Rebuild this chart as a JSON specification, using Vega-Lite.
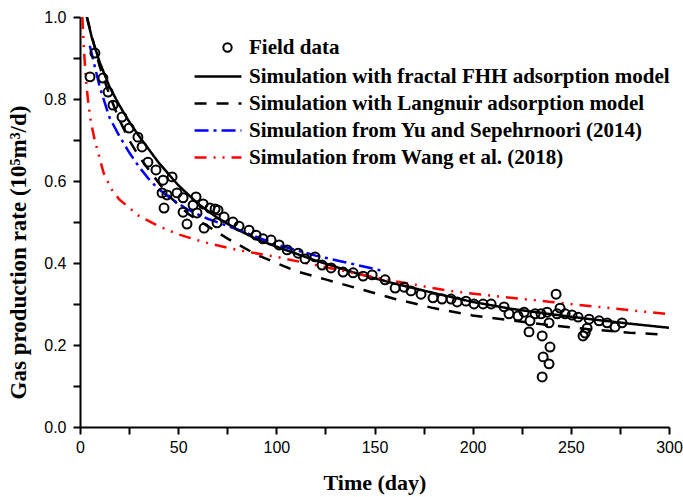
{
  "$schema": "https://vega.github.io/schema/vega-lite/v6.json",
  "width": 589,
  "height": 410,
  "autosize": {"type": "none"},
  "padding": {"left": 80, "top": 17, "right": 14, "bottom": 70},
  "background": "white",
  "config": {
    "view": {"stroke": null},
    "axis": {
      "grid": false,
      "domainColor": "black",
      "domainWidth": 2,
      "tickColor": "black",
      "tickWidth": 2,
      "tickSize": 7,
      "labelFont": "Liberation Sans",
      "labelFontSize": 16,
      "labelColor": "black",
      "labelFlush": false,
      "titleFont": "Liberation Serif",
      "titleFontWeight": "bold",
      "titleFontSize": 22,
      "titleColor": "black"
    },
    "legend": {
      "labelFont": "Liberation Serif",
      "labelFontWeight": "bold",
      "labelFontSize": 21,
      "labelColor": "black",
      "padding": 0,
      "labelLimit": 700
    }
  },
  "datasets": {
    "field": [
      {"day": 5.1, "rate": 0.854}, {"day": 7.6, "rate": 0.912}, {"day": 11.7, "rate": 0.851},
      {"day": 14.3, "rate": 0.817}, {"day": 16.8, "rate": 0.785}, {"day": 21.4, "rate": 0.756},
      {"day": 25.0, "rate": 0.729}, {"day": 29.5, "rate": 0.707}, {"day": 31.6, "rate": 0.683},
      {"day": 34.6, "rate": 0.646}, {"day": 38.7, "rate": 0.627}, {"day": 42.3, "rate": 0.602},
      {"day": 46.9, "rate": 0.610}, {"day": 41.8, "rate": 0.571}, {"day": 44.3, "rate": 0.566},
      {"day": 49.4, "rate": 0.571}, {"day": 42.8, "rate": 0.534}, {"day": 52.5, "rate": 0.559},
      {"day": 52.5, "rate": 0.524}, {"day": 54.5, "rate": 0.495}, {"day": 57.6, "rate": 0.541},
      {"day": 59.1, "rate": 0.561}, {"day": 59.6, "rate": 0.522}, {"day": 62.7, "rate": 0.544},
      {"day": 63.2, "rate": 0.485}, {"day": 66.2, "rate": 0.534}, {"day": 68.8, "rate": 0.532},
      {"day": 70.3, "rate": 0.529}, {"day": 69.8, "rate": 0.498}, {"day": 73.4, "rate": 0.512},
      {"day": 77.9, "rate": 0.500}, {"day": 81.0, "rate": 0.490}, {"day": 86.1, "rate": 0.480},
      {"day": 89.7, "rate": 0.468}, {"day": 93.2, "rate": 0.459}, {"day": 97.3, "rate": 0.456},
      {"day": 101.4, "rate": 0.444}, {"day": 105.5, "rate": 0.432}, {"day": 111.1, "rate": 0.424},
      {"day": 114.6, "rate": 0.410}, {"day": 119.7, "rate": 0.415}, {"day": 123.3, "rate": 0.395},
      {"day": 127.9, "rate": 0.388}, {"day": 134.0, "rate": 0.378}, {"day": 139.1, "rate": 0.376},
      {"day": 144.2, "rate": 0.368}, {"day": 148.8, "rate": 0.371}, {"day": 155.4, "rate": 0.359},
      {"day": 160.5, "rate": 0.339}, {"day": 165.1, "rate": 0.341}, {"day": 168.6, "rate": 0.332},
      {"day": 173.7, "rate": 0.324}, {"day": 179.8, "rate": 0.315}, {"day": 184.4, "rate": 0.312},
      {"day": 189.0, "rate": 0.312}, {"day": 192.1, "rate": 0.305}, {"day": 196.6, "rate": 0.307},
      {"day": 200.7, "rate": 0.300}, {"day": 205.3, "rate": 0.300}, {"day": 209.4, "rate": 0.300},
      {"day": 216.0, "rate": 0.293}, {"day": 218.5, "rate": 0.276}, {"day": 223.1, "rate": 0.271},
      {"day": 226.2, "rate": 0.280}, {"day": 229.2, "rate": 0.259}, {"day": 228.7, "rate": 0.232},
      {"day": 231.8, "rate": 0.276}, {"day": 234.8, "rate": 0.276}, {"day": 237.9, "rate": 0.280},
      {"day": 238.9, "rate": 0.254}, {"day": 235.4, "rate": 0.222}, {"day": 239.4, "rate": 0.195},
      {"day": 235.9, "rate": 0.171}, {"day": 238.9, "rate": 0.154}, {"day": 235.4, "rate": 0.122},
      {"day": 242.5, "rate": 0.324}, {"day": 244.5, "rate": 0.290}, {"day": 243.0, "rate": 0.276},
      {"day": 247.1, "rate": 0.276}, {"day": 250.6, "rate": 0.273}, {"day": 253.7, "rate": 0.268},
      {"day": 259.3, "rate": 0.263}, {"day": 258.3, "rate": 0.241}, {"day": 257.3, "rate": 0.229},
      {"day": 256.2, "rate": 0.222}, {"day": 264.4, "rate": 0.259}, {"day": 268.5, "rate": 0.254},
      {"day": 272.5, "rate": 0.244}, {"day": 276.1, "rate": 0.254}
    ],
    "sim": [
      {"s": "Simulation with fractal FHH adsorption model", "day": 3.5, "rate": 1.0},
      {"s": "Simulation with fractal FHH adsorption model", "day": 6, "rate": 0.95},
      {"s": "Simulation with fractal FHH adsorption model", "day": 10, "rate": 0.89},
      {"s": "Simulation with fractal FHH adsorption model", "day": 15, "rate": 0.83},
      {"s": "Simulation with fractal FHH adsorption model", "day": 20, "rate": 0.785},
      {"s": "Simulation with fractal FHH adsorption model", "day": 25, "rate": 0.745},
      {"s": "Simulation with fractal FHH adsorption model", "day": 30, "rate": 0.71},
      {"s": "Simulation with fractal FHH adsorption model", "day": 40, "rate": 0.645},
      {"s": "Simulation with fractal FHH adsorption model", "day": 50, "rate": 0.59},
      {"s": "Simulation with fractal FHH adsorption model", "day": 60, "rate": 0.545},
      {"s": "Simulation with fractal FHH adsorption model", "day": 70, "rate": 0.51},
      {"s": "Simulation with fractal FHH adsorption model", "day": 80, "rate": 0.482},
      {"s": "Simulation with fractal FHH adsorption model", "day": 90, "rate": 0.458},
      {"s": "Simulation with fractal FHH adsorption model", "day": 100, "rate": 0.44},
      {"s": "Simulation with fractal FHH adsorption model", "day": 120, "rate": 0.406},
      {"s": "Simulation with fractal FHH adsorption model", "day": 140, "rate": 0.376},
      {"s": "Simulation with fractal FHH adsorption model", "day": 160, "rate": 0.35},
      {"s": "Simulation with fractal FHH adsorption model", "day": 180, "rate": 0.327},
      {"s": "Simulation with fractal FHH adsorption model", "day": 200, "rate": 0.305},
      {"s": "Simulation with fractal FHH adsorption model", "day": 220, "rate": 0.288},
      {"s": "Simulation with fractal FHH adsorption model", "day": 240, "rate": 0.275},
      {"s": "Simulation with fractal FHH adsorption model", "day": 260, "rate": 0.263},
      {"s": "Simulation with fractal FHH adsorption model", "day": 280, "rate": 0.252},
      {"s": "Simulation with fractal FHH adsorption model", "day": 300, "rate": 0.242},

      {"s": "Simulation with Langnuir adsorption model", "day": 3.5, "rate": 1.0},
      {"s": "Simulation with Langnuir adsorption model", "day": 10, "rate": 0.88},
      {"s": "Simulation with Langnuir adsorption model", "day": 15, "rate": 0.81},
      {"s": "Simulation with Langnuir adsorption model", "day": 20, "rate": 0.75},
      {"s": "Simulation with Langnuir adsorption model", "day": 25, "rate": 0.70},
      {"s": "Simulation with Langnuir adsorption model", "day": 30, "rate": 0.66},
      {"s": "Simulation with Langnuir adsorption model", "day": 37, "rate": 0.615},
      {"s": "Simulation with Langnuir adsorption model", "day": 45, "rate": 0.565},
      {"s": "Simulation with Langnuir adsorption model", "day": 55, "rate": 0.52},
      {"s": "Simulation with Langnuir adsorption model", "day": 65, "rate": 0.49},
      {"s": "Simulation with Langnuir adsorption model", "day": 75, "rate": 0.46},
      {"s": "Simulation with Langnuir adsorption model", "day": 90, "rate": 0.42},
      {"s": "Simulation with Langnuir adsorption model", "day": 100, "rate": 0.40},
      {"s": "Simulation with Langnuir adsorption model", "day": 110, "rate": 0.38},
      {"s": "Simulation with Langnuir adsorption model", "day": 125, "rate": 0.36},
      {"s": "Simulation with Langnuir adsorption model", "day": 140, "rate": 0.34},
      {"s": "Simulation with Langnuir adsorption model", "day": 160, "rate": 0.313},
      {"s": "Simulation with Langnuir adsorption model", "day": 180, "rate": 0.29},
      {"s": "Simulation with Langnuir adsorption model", "day": 200, "rate": 0.272},
      {"s": "Simulation with Langnuir adsorption model", "day": 220, "rate": 0.26},
      {"s": "Simulation with Langnuir adsorption model", "day": 240, "rate": 0.248},
      {"s": "Simulation with Langnuir adsorption model", "day": 260, "rate": 0.238},
      {"s": "Simulation with Langnuir adsorption model", "day": 280, "rate": 0.23},
      {"s": "Simulation with Langnuir adsorption model", "day": 295, "rate": 0.226},

      {"s": "Simulation from Yu and Sepehrnoori (2014)", "day": 5, "rate": 0.93},
      {"s": "Simulation from Yu and Sepehrnoori (2014)", "day": 10, "rate": 0.83},
      {"s": "Simulation from Yu and Sepehrnoori (2014)", "day": 15, "rate": 0.755},
      {"s": "Simulation from Yu and Sepehrnoori (2014)", "day": 20, "rate": 0.71},
      {"s": "Simulation from Yu and Sepehrnoori (2014)", "day": 25, "rate": 0.67},
      {"s": "Simulation from Yu and Sepehrnoori (2014)", "day": 30, "rate": 0.635},
      {"s": "Simulation from Yu and Sepehrnoori (2014)", "day": 35, "rate": 0.605},
      {"s": "Simulation from Yu and Sepehrnoori (2014)", "day": 40, "rate": 0.58},
      {"s": "Simulation from Yu and Sepehrnoori (2014)", "day": 47, "rate": 0.555},
      {"s": "Simulation from Yu and Sepehrnoori (2014)", "day": 55, "rate": 0.53},
      {"s": "Simulation from Yu and Sepehrnoori (2014)", "day": 65, "rate": 0.508},
      {"s": "Simulation from Yu and Sepehrnoori (2014)", "day": 80, "rate": 0.482},
      {"s": "Simulation from Yu and Sepehrnoori (2014)", "day": 100, "rate": 0.445},
      {"s": "Simulation from Yu and Sepehrnoori (2014)", "day": 120, "rate": 0.418},
      {"s": "Simulation from Yu and Sepehrnoori (2014)", "day": 135, "rate": 0.402},
      {"s": "Simulation from Yu and Sepehrnoori (2014)", "day": 153, "rate": 0.382},

      {"s": "Simulation from Wang et al. (2018)", "day": 1.2, "rate": 1.0},
      {"s": "Simulation from Wang et al. (2018)", "day": 2, "rate": 0.92},
      {"s": "Simulation from Wang et al. (2018)", "day": 3, "rate": 0.85},
      {"s": "Simulation from Wang et al. (2018)", "day": 4, "rate": 0.80},
      {"s": "Simulation from Wang et al. (2018)", "day": 5.5, "rate": 0.745},
      {"s": "Simulation from Wang et al. (2018)", "day": 7.5, "rate": 0.70},
      {"s": "Simulation from Wang et al. (2018)", "day": 12, "rate": 0.62},
      {"s": "Simulation from Wang et al. (2018)", "day": 16, "rate": 0.58},
      {"s": "Simulation from Wang et al. (2018)", "day": 20, "rate": 0.555},
      {"s": "Simulation from Wang et al. (2018)", "day": 25, "rate": 0.535},
      {"s": "Simulation from Wang et al. (2018)", "day": 30, "rate": 0.515},
      {"s": "Simulation from Wang et al. (2018)", "day": 40, "rate": 0.49},
      {"s": "Simulation from Wang et al. (2018)", "day": 50, "rate": 0.47},
      {"s": "Simulation from Wang et al. (2018)", "day": 63, "rate": 0.451},
      {"s": "Simulation from Wang et al. (2018)", "day": 80, "rate": 0.432},
      {"s": "Simulation from Wang et al. (2018)", "day": 100, "rate": 0.415},
      {"s": "Simulation from Wang et al. (2018)", "day": 120, "rate": 0.395},
      {"s": "Simulation from Wang et al. (2018)", "day": 144, "rate": 0.371},
      {"s": "Simulation from Wang et al. (2018)", "day": 160, "rate": 0.356},
      {"s": "Simulation from Wang et al. (2018)", "day": 188, "rate": 0.332},
      {"s": "Simulation from Wang et al. (2018)", "day": 210, "rate": 0.32},
      {"s": "Simulation from Wang et al. (2018)", "day": 240, "rate": 0.305},
      {"s": "Simulation from Wang et al. (2018)", "day": 270, "rate": 0.29},
      {"s": "Simulation from Wang et al. (2018)", "day": 300, "rate": 0.275}
    ]
  },
  "encoding": {
    "x": {
      "field": "day", "type": "quantitative",
      "scale": {"domain": [0, 300], "nice": false},
      "axis": {
        "title": "Time (day)",
        "values": [0, 25, 50, 75, 100, 125, 150, 175, 200, 225, 250, 275, 300],
        "labelExpr": "datum.value % 50 == 0 ? datum.label : ''",
        "labelPadding": 5,
        "titlePadding": 17
      }
    },
    "y": {
      "field": "rate", "type": "quantitative",
      "scale": {"domain": [0, 1.0], "nice": false},
      "axis": {
        "title": "Gas production rate (10⁵m³/d)",
        "values": [0, 0.1, 0.2, 0.3, 0.4, 0.5, 0.6, 0.7, 0.8, 0.9, 1.0],
        "labelExpr": "round(datum.value * 10) % 2 == 0 ? format(datum.value, '.1f') : ''",
        "labelPadding": 7,
        "titleFontSize": 23,
        "titlePadding": 13,
        "titleY": 235
      }
    }
  },
  "layer": [
    {
      "data": {"name": "sim"},
      "mark": {"type": "line", "strokeWidth": 2.5, "clip": true},
      "encoding": {
        "color": {
          "field": "s", "type": "nominal",
          "scale": {
            "domain": ["Simulation with fractal FHH adsorption model", "Simulation with Langnuir adsorption model", "Simulation from Yu and Sepehrnoori (2014)", "Simulation from Wang et al. (2018)"],
            "range": ["#000000", "#000000", "#0000ff", "#ff0000"]
          },
          "legend": {
            "title": null,
            "orient": "none",
            "legendX": 113,
            "legendY": 46,
            "symbolType": "stroke",
            "symbolSize": 2200,
            "symbolStrokeWidth": 2.5,
            "labelOffset": 6,
            "rowPadding": 0,
            "clipHeight": 27
          }
        },
        "strokeDash": {
          "field": "s", "type": "nominal",
          "scale": {
            "domain": ["Simulation with fractal FHH adsorption model", "Simulation with Langnuir adsorption model", "Simulation from Yu and Sepehrnoori (2014)", "Simulation from Wang et al. (2018)"],
            "range": [[1, 0], [12, 10], [14, 5, 3, 5], [12, 7, 2, 7, 2, 7]]
          },
          "legend": {
            "title": null,
            "orient": "none",
            "legendX": 113,
            "legendY": 46,
            "symbolType": "stroke",
            "symbolSize": 2200,
            "symbolStrokeWidth": 2.5,
            "labelOffset": 6,
            "rowPadding": 0,
            "clipHeight": 27
          }
        }
      }
    },
    {
      "data": {"name": "field"},
      "transform": [{"calculate": "'Field data'", "as": "kind"}],
      "mark": {"type": "point", "filled": false, "color": "black", "opacity": 1, "strokeWidth": 2, "size": 80},
      "encoding": {
        "shape": {
          "field": "kind", "type": "nominal",
          "scale": {"range": ["circle"]},
          "legend": {
            "title": null,
            "orient": "none",
            "legendX": 137,
            "legendY": 20,
            "symbolStrokeColor": "black",
            "symbolStrokeWidth": 2,
            "symbolOpacity": 1,
            "symbolSize": 70,
            "labelOffset": 11
          }
        }
      }
    }
  ]
}
